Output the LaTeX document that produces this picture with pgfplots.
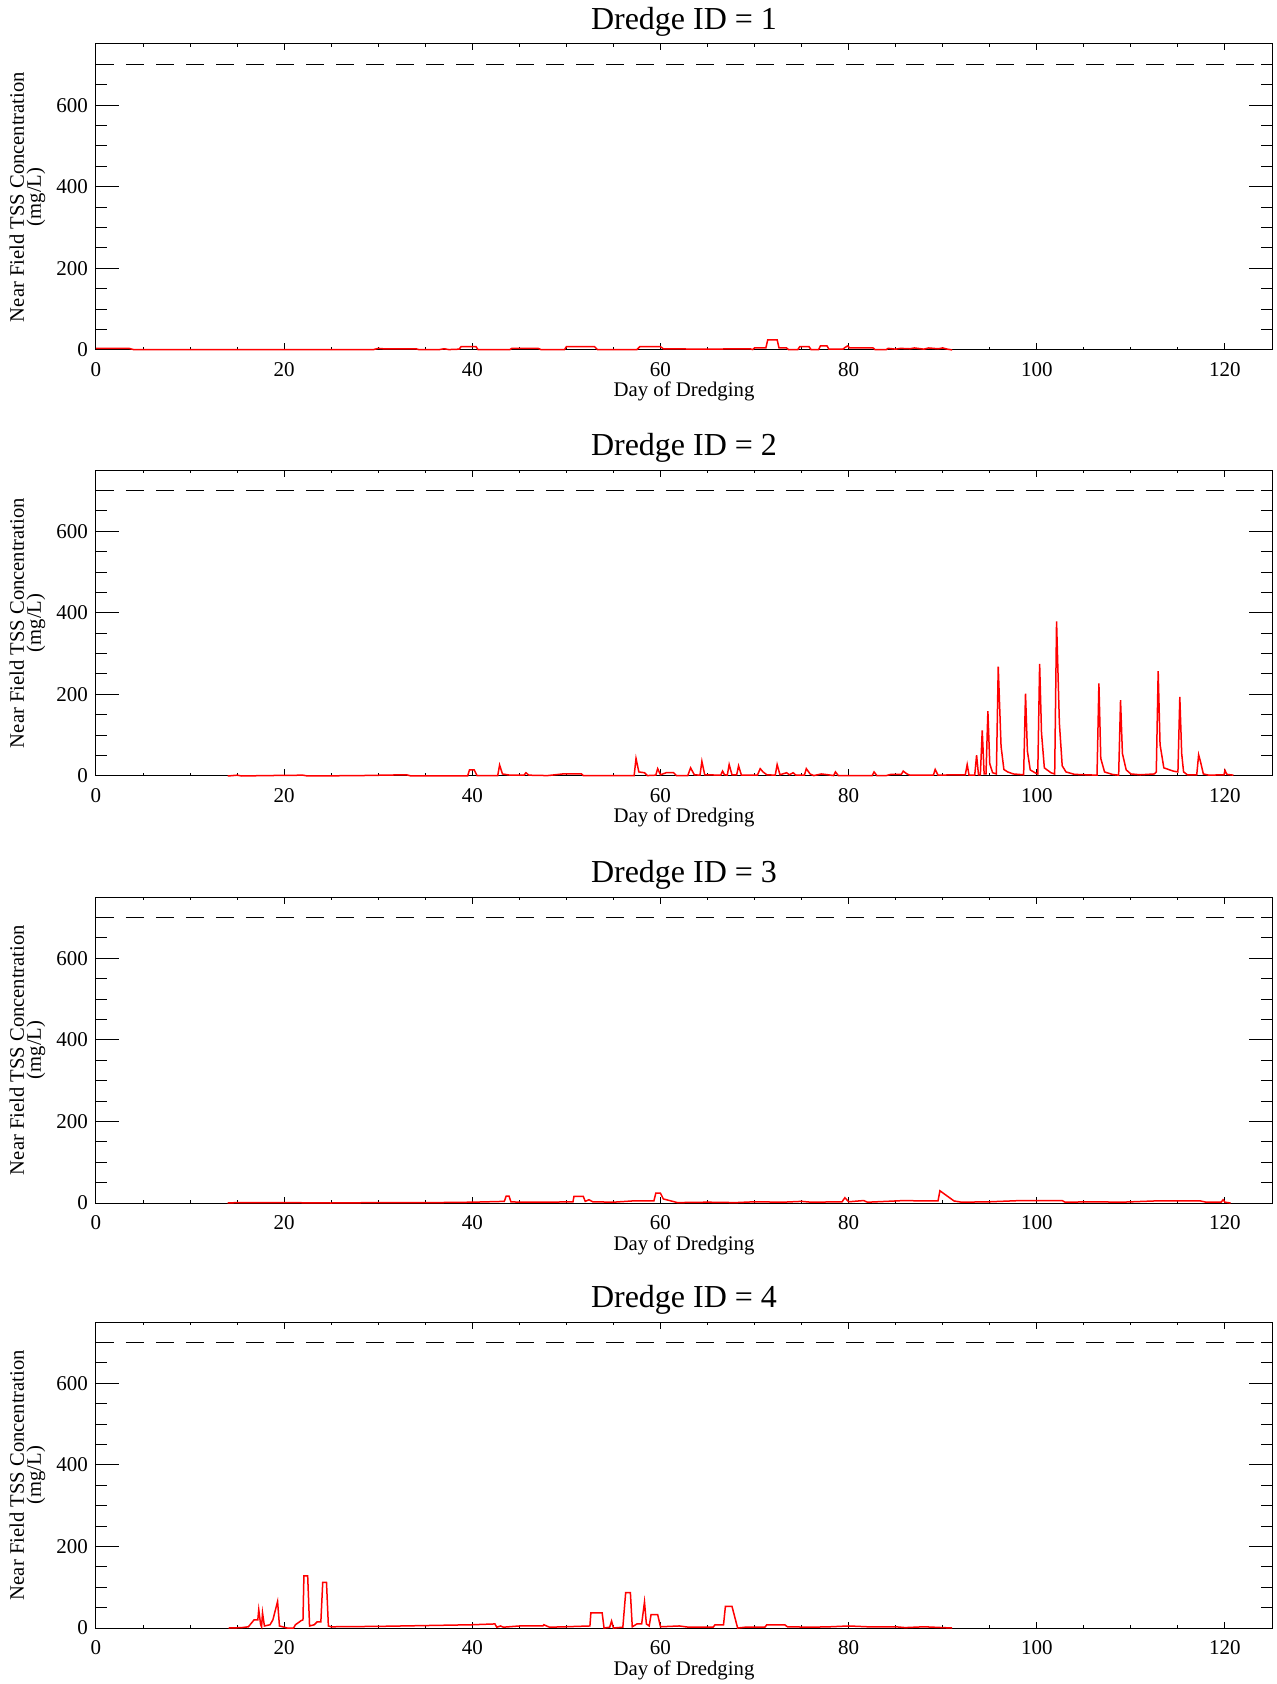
\documentclass[border=0pt]{standalone}
\usepackage{fontspec}
\setmainfont{Liberation Serif}
\usepackage{pgfplots}
\pgfplotsset{compat=1.18}
\usepackage{pgfplotstable}

\pgfplotstableread{
x y
0 4
3.5 4
4 1
29.5 1
30 4
30.5 3
34 3
34.3 1
36.5 1
37 3
37.5 1
38.6 2
38.8 8
40.4 8
40.6 1
44 1
44.2 4
47 4
47.3 1
49.8 1
50 8
53 8
53.3 1
57.5 1
57.8 8
60 8
60.3 3
64.5 2
69.5 3
69.8 1
70 5
71.2 5
71.4 25
72.4 25
72.6 5
73.4 5
73.6 1
74.6 1
74.8 8
75.8 8
76 1
76.8 1
77 10
77.7 10
77.9 2
79.4 2
79.6 6
79.9 10
80.1 5
82.6 5
82.8 1
84 1
84.2 4
85 2
85.5 4
86.5 3
87 5
88 2
88.5 5
89.5 3
90 5
90.5 2
90.8 1
91 0
}\dataA

\pgfplotstableread{
x y
14 0
15 2
15.5 0
18 1
22 2
22.5 0
28 1
33 3
33.5 0
39.5 0
39.7 15
40.2 15
40.5 1
42.7 1
42.9 27
43.2 5
44 2
45.5 2
45.7 8
46 2
48 1
49.6 5
51.6 5
51.8 1
57.2 1
57.4 43
57.7 10
58.3 8
58.6 1
59.5 2
59.7 18
60 3
60.6 8
61.4 8
61.7 1
62.9 1
63.2 20
63.6 3
64.2 2
64.4 36
64.7 3
66.4 2
66.6 12
66.8 3
67.1 2
67.3 28
67.6 3
68.1 3
68.3 25
68.6 2
70.3 2
70.6 18
70.9 10
71.3 3
72.2 2
72.4 28
72.7 3
73.4 8
73.7 3
74.1 8
74.4 2
75.3 2
75.5 18
75.9 5
76.3 1
77.1 5
77.8 3
78.4 1
78.6 10
78.9 1
82.5 1
82.7 10
83 1
84 1
84.5 4
85.6 4
85.8 12
86.2 5
86.5 2
89 2
89.2 16
89.5 2
91.5 3
92.4 3
92.6 28
92.8 2
93.4 2
93.6 51
93.8 3
94.0 3
94.2 112
94.4 5
94.6 5
94.8 159
95.0 30
95.3 8
95.7 5
95.9 268
96.2 73
96.5 16
96.9 10
97.5 5
98.6 3
98.8 202
99.0 61
99.3 15
99.8 8
100.1 5
100.3 275
100.5 106
100.8 20
101.5 8
101.9 5
102.1 379
102.4 129
102.7 25
103.1 10
104 4
106.4 2
106.6 227
106.8 43
107.2 10
108 4
108.7 2
108.9 186
109.1 55
109.5 15
110 5
111 3
112.5 5
112.7 10
112.9 257
113.1 77
113.5 20
114.5 12
115 10
115.2 194
115.4 55
115.6 10
116 3
117 3
117.2 52
117.4 35
117.7 5
118.3 2
119.9 3
120 14
120.2 4
120.9 2
}\dataB

\pgfplotstableread{
x y
14 0
15 1
20 1
25 0
30 1
36 1
40 2
43.4 4
43.6 17
43.9 17
44.1 3
45 2
48 2
50.7 3
50.8 16
51.8 16
52 4
52.4 8
52.8 3
55 2
57 5
59.3 5
59.5 24
60 24
60.3 10
61.8 1
65 2
68 1
70 3
73 2
75 4
76 2
79.3 3
79.6 13
80 3
81.6 6
82 2
84 4
85.9 6
88 5
89.5 5
89.7 30
91.2 5
92 2
95 3
98.3 6
102.7 6
103 2
106 3
109 2
112.5 5
117.4 5
118 2
119.6 2
119.8 8
120 2
120.6 0
}\dataC

\pgfplotstableread{
x y
14.1 0
15.5 1
16.2 3
16.8 20
17.2 20
17.3 45
17.5 8
17.6 3
17.7 37
17.9 5
18.5 8
18.8 20
19.3 65
19.5 5
20 2
20.3 0
21 0
21.2 8
21.8 18
22 20
22.1 128
22.5 128
22.7 5
23.2 8
23.5 15
23.9 15
24.1 112
24.5 112
24.7 5
25 3
30 4
35 6
40 8
42.4 10
42.6 2
43 5
43.3 2
45 5
47.5 5
47.6 8
47.9 5
48.2 2
49.8 3
52.5 5
52.6 37
53.8 37
54 0
54.6 2
54.8 17
55 0
56 2
56.3 87
56.8 87
57 3
57.5 10
58 10
58.3 64
58.5 10
58.8 5
59 33
59.7 33
60 3
62 5
63 2
65.6 2
65.8 8
66.7 8
66.9 53
67.6 53
68.2 0
69 2
71.1 2
71.3 8
73.2 8
73.5 3
76 2
78 3
80 5
82 3
85 3
86 1
88 3
89 2
91 0
}\dataD

\pgfplotsset{
  dredge/.style={
    scale only axis, width=588pt, height=153pt,
    anchor=north west,
    xmin=0, xmax=125, ymin=0, ymax=750,
    xtick={0,20,...,120}, minor xtick={5,10,...,125},
    ytick={0,200,400,600}, minor ytick={50,100,...,750},
    tick align=inside,
    axis line style={line width=0.5pt, black},
    xtick style={line width=0.5pt, black, /pgfplots/major tick length=3.25pt, /pgfplots/minor tick length=1.6pt},
    ytick style={line width=0.5pt, black, /pgfplots/major tick length=11.5pt, /pgfplots/minor tick length=5.75pt},
    ticklabel style={font=\fontsize{10.5}{12}\selectfont, /pgf/number format/assume math mode=true},
    xticklabel style={yshift=-2.5pt},
    yticklabel style={xshift=-0.5pt},
    xlabel={Day of Dredging},
    ylabel={Near Field TSS Concentration\\(mg/L)},
    xlabel style={at={(axis description cs:0.5,-0.1536)}, anchor=base, font=\fontsize{10.4}{12}\selectfont},
    ylabel style={at={(axis description cs:-0.0583,0.5)}, anchor=center, align=center, font=\fontsize{10.3}{8.6}\selectfont},
    every axis title shift=0pt,
    title style={at={(axis description cs:0.5,1.049)}, anchor=base, font=\fontsize{16}{19}\selectfont},
    clip=false,
  },
  thr/.style={black, line width=0.5pt, dash pattern=on 9pt off 6pt},
  tss/.style={red, line width=0.75pt},
}

\begin{document}
\begin{tikzpicture}
\useasboundingbox (0,0) rectangle (638pt,-842pt);

\begin{axis}[dredge, at={(48pt,-22pt)}, title={Dredge ID = 1}]
\addplot[thr] coordinates {(0,700) (125,700)};
\addplot[tss] table[x=x,y=y] {\dataA};
\end{axis}

\begin{axis}[dredge, at={(48pt,-235pt)}, title={Dredge ID = 2}]
\addplot[thr] coordinates {(0,700) (125,700)};
\addplot[tss] table[x=x,y=y] {\dataB};
\end{axis}

\begin{axis}[dredge, at={(48pt,-448.5pt)}, title={Dredge ID = 3}]
\addplot[thr] coordinates {(0,700) (125,700)};
\addplot[tss] table[x=x,y=y] {\dataC};
\end{axis}

\begin{axis}[dredge, at={(48pt,-661pt)}, title={Dredge ID = 4}]
\addplot[thr] coordinates {(0,700) (125,700)};
\addplot[tss] table[x=x,y=y] {\dataD};
\end{axis}
\end{tikzpicture}
\end{document}
